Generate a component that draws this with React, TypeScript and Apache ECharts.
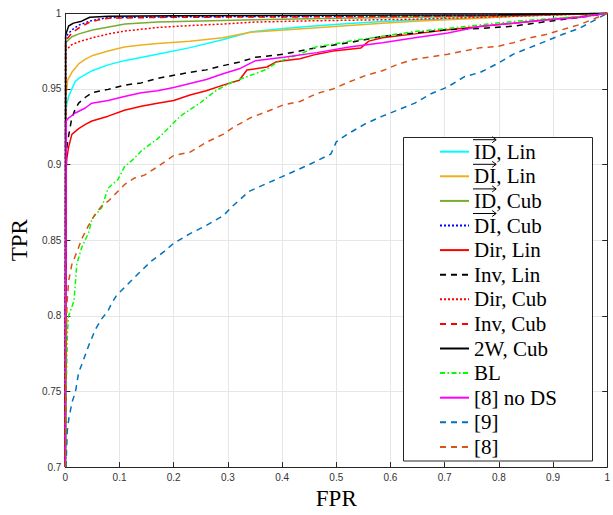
import React, { useEffect, useRef } from 'react';
import * as echarts from 'echarts';

// ---- data ----
const seriesNames = ['ID, Lin', 'DI, Lin', 'ID, Cub', 'DI, Cub', 'Dir, Lin', 'Inv, Lin', 'Dir, Cub', 'Inv, Cub', '2W, Cub', 'BL', '[8] no DS', '[9]', '[8]'];

const idLinFpr = [0, 0.0005, 0.003, 0.006, 0.012, 0.018, 0.0245, 0.037, 0.049, 0.079, 0.109, 0.17, 0.23, 0.29, 0.342, 0.403, 0.464, 0.524, 0.585, 0.645, 0.706, 0.766, 0.827, 0.887, 0.948, 1];
const idLinTpr = [0.7, 0.934, 0.9406, 0.945, 0.95, 0.9547, 0.957, 0.9596, 0.962, 0.9659, 0.9687, 0.973, 0.9773, 0.9825, 0.9877, 0.99, 0.9918, 0.9932, 0.9945, 0.9955, 0.9963, 0.997, 0.998, 0.9989, 0.9995, 1];

const diLinFpr = [0, 0.0005, 0.003, 0.004, 0.012, 0.0245, 0.037, 0.049, 0.079, 0.109, 0.14, 0.17, 0.23, 0.29, 0.342, 0.403, 0.464, 0.524, 0.585, 0.645, 0.706, 0.766, 0.827, 0.887, 0.948, 1];
const diLinTpr = [0.7, 0.944, 0.9514, 0.9557, 0.961, 0.9665, 0.9697, 0.9719, 0.9751, 0.9777, 0.979, 0.98, 0.9816, 0.9838, 0.9875, 0.989, 0.9905, 0.992, 0.9935, 0.9947, 0.9957, 0.9968, 0.998, 0.9989, 0.9995, 1];

const idCubFpr = [0, 0.0005, 0.012, 0.025, 0.05, 0.08, 0.11, 0.17, 0.23, 0.35, 0.5, 0.7, 0.85, 1];
const idCubTpr = [0.7, 0.9806, 0.9845, 0.9864, 0.989, 0.991, 0.9929, 0.9942, 0.9948, 0.9958, 0.9968, 0.9977, 0.9987, 1];

const diCubFpr = [0, 0.0005, 0.012, 0.025, 0.045, 0.06, 0.08, 0.2, 0.5, 0.8, 1];
const diCubTpr = [0.7, 0.9845, 0.989, 0.9922, 0.9948, 0.9961, 0.9971, 0.9977, 0.998, 0.9987, 1];

const dirLinFpr = [0, 0.001, 0.003, 0.006, 0.012, 0.0245, 0.037, 0.049, 0.079, 0.109, 0.14, 0.17, 0.2, 0.23, 0.26, 0.291, 0.321, 0.335, 0.372, 0.39, 0.403, 0.433, 0.464, 0.494, 0.524, 0.545, 0.56, 0.585, 0.645, 0.706, 0.766, 0.827, 0.887, 0.948, 1];
const dirLinTpr = [0.7, 0.895, 0.905, 0.9115, 0.92, 0.9238, 0.9266, 0.9288, 0.932, 0.9359, 0.9385, 0.9406, 0.9424, 0.946, 0.9488, 0.9525, 0.9557, 0.9625, 0.9645, 0.968, 0.9687, 0.97, 0.973, 0.975, 0.9762, 0.977, 0.9816, 0.9838, 0.9864, 0.9892, 0.9913, 0.9935, 0.9957, 0.9978, 1];

const invLinFpr = [0, 0.001, 0.003, 0.006, 0.012, 0.018, 0.0245, 0.037, 0.049, 0.079, 0.109, 0.14, 0.17, 0.2, 0.23, 0.26, 0.291, 0.32, 0.351, 0.403, 0.464, 0.524, 0.585, 0.645, 0.706, 0.766, 0.827, 0.887, 0.948, 1];
const invLinTpr = [0.7, 0.9, 0.912, 0.919, 0.931, 0.9363, 0.9406, 0.9445, 0.9475, 0.9497, 0.9525, 0.954, 0.957, 0.959, 0.961, 0.9626, 0.9654, 0.9676, 0.9709, 0.973, 0.9773, 0.9806, 0.9848, 0.987, 0.9892, 0.99, 0.9915, 0.9945, 0.9972, 1];

const dirCubFpr = [0, 0.0005, 0.012, 0.025, 0.05, 0.08, 0.11, 0.17, 0.23, 0.29, 0.35, 0.45, 0.645, 0.887, 1];
const dirCubTpr = [0.7, 0.9754, 0.9793, 0.9812, 0.9838, 0.9864, 0.9883, 0.9906, 0.9919, 0.9929, 0.9942, 0.995, 0.9961, 0.9987, 1];

const invCubFpr = [0, 0.0005, 0.012, 0.025, 0.045, 0.06, 0.08, 0.2, 0.5, 0.8, 1];
const invCubTpr = [0.7, 0.9819, 0.987, 0.9903, 0.9942, 0.9955, 0.9968, 0.9974, 0.9977, 0.9984, 1];

const twoWCubFpr = [0, 0.0005, 0.006, 0.015, 0.03, 0.045, 0.08, 0.2, 0.5, 0.8, 1];
const twoWCubTpr = [0.7, 0.9857, 0.9916, 0.9935, 0.9948, 0.9974, 0.998, 0.9984, 0.9987, 0.999, 1];

const blFpr = [0.001, 0.0015, 0.004, 0.006, 0.012, 0.016, 0.021, 0.03, 0.043, 0.049, 0.061, 0.067, 0.073, 0.079, 0.097, 0.109, 0.127, 0.14, 0.17, 0.19, 0.212, 0.248, 0.279, 0.309, 0.342, 0.372, 0.39, 0.433, 0.464, 0.494, 0.524, 0.585, 0.645, 0.706, 0.766, 0.827, 0.887, 0.948, 1];
const blTpr = [0.7, 0.75, 0.79, 0.8, 0.806, 0.81, 0.834, 0.845, 0.855, 0.864, 0.869, 0.8715, 0.878, 0.8845, 0.89, 0.8985, 0.904, 0.909, 0.917, 0.924, 0.932, 0.9406, 0.9492, 0.9547, 0.959, 0.963, 0.9676, 0.973, 0.978, 0.9795, 0.9816, 0.9848, 0.988, 0.99, 0.9924, 0.9946, 0.9963, 0.9978, 1];

const noDsFpr = [0, 0.0015, 0.0064, 0.0185, 0.0366, 0.0487, 0.079, 0.109, 0.14, 0.17, 0.2, 0.23, 0.26, 0.291, 0.321, 0.351, 0.403, 0.464, 0.524, 0.585, 0.645, 0.706, 0.766, 0.827, 0.887, 0.948, 1];
const noDsTpr = [0.7, 0.9288, 0.9309, 0.9341, 0.9374, 0.9406, 0.9424, 0.945, 0.9475, 0.9488, 0.951, 0.9536, 0.9562, 0.96, 0.9633, 0.9687, 0.971, 0.974, 0.9777, 0.9806, 0.9838, 0.987, 0.9915, 0.9935, 0.9955, 0.9972, 1];

const ref9Fpr = [0.001, 0.0015, 0.0035, 0.0064, 0.0124, 0.0185, 0.0245, 0.0305, 0.0427, 0.0548, 0.067, 0.079, 0.085, 0.094, 0.109, 0.133, 0.158, 0.182, 0.2, 0.23, 0.26, 0.291, 0.309, 0.339, 0.4, 0.45, 0.49, 0.5, 0.52, 0.554, 0.585, 0.615, 0.645, 0.676, 0.706, 0.736, 0.766, 0.796, 0.827, 0.857, 0.887, 0.917, 0.948, 0.978, 1];
const ref9Tpr = [0.7, 0.704, 0.7237, 0.732, 0.743, 0.7495, 0.7625, 0.768, 0.78, 0.7906, 0.798, 0.8035, 0.808, 0.8132, 0.8187, 0.8273, 0.836, 0.8424, 0.848, 0.8543, 0.8597, 0.8661, 0.8726, 0.8823, 0.892, 0.9, 0.907, 0.915, 0.92, 0.927, 0.932, 0.9363, 0.9406, 0.947, 0.9514, 0.958, 0.961, 0.9665, 0.973, 0.9773, 0.9816, 0.986, 0.99, 0.9957, 1];

const ref8Fpr = [0, 0.001, 0.002, 0.003, 0.006, 0.012, 0.021, 0.0305, 0.043, 0.055, 0.067, 0.079, 0.097, 0.109, 0.127, 0.146, 0.17, 0.2, 0.23, 0.26, 0.291, 0.309, 0.342, 0.372, 0.403, 0.433, 0.464, 0.494, 0.524, 0.555, 0.585, 0.615, 0.645, 0.676, 0.706, 0.736, 0.766, 0.796, 0.827, 0.857, 0.887, 0.917, 0.948, 0.978, 1];
const ref8Tpr = [0.7, 0.76, 0.79, 0.808, 0.823, 0.834, 0.842, 0.851, 0.86, 0.8672, 0.8726, 0.8758, 0.8823, 0.8867, 0.891, 0.893, 0.8985, 0.906, 0.9082, 0.9147, 0.92, 0.9244, 0.931, 0.935, 0.9395, 0.9417, 0.947, 0.95, 0.9547, 0.959, 0.962, 0.9665, 0.9697, 0.9712, 0.973, 0.9751, 0.9773, 0.978, 0.9806, 0.9838, 0.986, 0.9892, 0.9924, 0.9967, 1];

const xTickStep = 0.1;
const yTickStep = 0.05;

// ---- styles ----
const seriesData: [number[], number[]][] = [
  [idLinFpr, idLinTpr], [diLinFpr, diLinTpr], [idCubFpr, idCubTpr], [diCubFpr, diCubTpr],
  [dirLinFpr, dirLinTpr], [invLinFpr, invLinTpr], [dirCubFpr, dirCubTpr], [invCubFpr, invCubTpr],
  [twoWCubFpr, twoWCubTpr], [blFpr, blTpr], [noDsFpr, noDsTpr], [ref9Fpr, ref9Tpr], [ref8Fpr, ref8Tpr],
];
const dashed = [6, 5];
const dotted = [2, 2];
const styles: { color: string; type: any }[] = [
  { color: '#00FFFF', type: 'solid' },
  { color: '#EDB120', type: 'solid' },
  { color: '#77AC30', type: 'solid' },
  { color: '#0000FF', type: dotted },
  { color: '#FF0000', type: 'solid' },
  { color: '#000000', type: dashed },
  { color: '#FF0000', type: dotted },
  { color: '#FF0000', type: dashed },
  { color: '#000000', type: 'solid' },
  { color: '#00FF00', type: [5, 2.5, 1.5, 2.5] },
  { color: '#FF00FF', type: 'solid' },
  { color: '#0072BD', type: dashed },
  { color: '#D95319', type: dashed },
];

const W = 613;
const H = 515;
const gLeft = 61.5;
const gTop = 13.3;
const gRight = 1;
const gBottom = 38.5;
const legendFont = 'Liberation Serif';
const legendSize = 21;
const legendTop = 141.2;
const legendStep = 24.6;
const legendTextX = 473;

export default function App() {
  const ref = useRef<HTMLDivElement>(null);
  useEffect(() => {
    if (!ref.current) return;
    const chart = echarts.init(ref.current, undefined, { renderer: 'svg', width: W, height: H });

    const ctx = document.createElement('canvas').getContext('2d')!;
    ctx.font = `${legendSize}px "${legendFont}"`;
    const arrows: any[] = [];
    [0, 1, 2, 3].forEach((i) => {
      const label = seriesNames[i].split(',')[0];
      const w = ctx.measureText(label).width;
      const cy = legendTop + legendSize / 2 + i * legendStep;
      const ay = cy - 12;
      const x0 = legendTextX;
      const x1 = legendTextX + w + 1;
      arrows.push({ type: 'line', z: 10, shape: { x1: x0, y1: ay, x2: x1, y2: ay }, style: { stroke: '#000', lineWidth: 1 } });
      arrows.push({ type: 'polyline', z: 10, shape: { points: [[x1 - 4, ay - 3], [x1, ay], [x1 - 4, ay + 3]] }, style: { stroke: '#000', lineWidth: 1, fill: 'none' } });
    });

    const axisColor = '#262626';
    const option: any = {
      animation: false,
      backgroundColor: '#fff',
      grid: { left: gLeft, top: gTop, right: gRight, bottom: gBottom, show: false },
      xAxis: [
        {
          type: 'value', min: 0, max: 1, interval: xTickStep,
          name: 'FPR', nameLocation: 'middle', nameGap: 15,
          nameTextStyle: { fontFamily: legendFont, fontSize: 23, color: '#000' },
          axisLine: { show: true, onZero: false, lineStyle: { color: axisColor, width: 1 } },
          axisTick: { show: true, inside: true, length: 5, lineStyle: { color: axisColor } },
          axisLabel: { fontFamily: 'Liberation Sans', fontSize: 10, color: '#333', margin: 5 },
          splitLine: { show: true, lineStyle: { color: '#e6e6e6', width: 1 } },
        },
        {
          type: 'value', min: 0, max: 1, interval: xTickStep, position: 'top',
          axisLine: { show: true, onZero: false, lineStyle: { color: axisColor, width: 1 } },
          axisTick: { show: true, inside: true, length: 5, lineStyle: { color: axisColor } },
          axisLabel: { show: false }, splitLine: { show: false },
        },
      ],
      yAxis: [
        {
          type: 'value', min: 0.7, max: 1, interval: yTickStep,
          name: 'TPR', nameLocation: 'middle', nameGap: 29,
          nameTextStyle: { fontFamily: legendFont, fontSize: 23, color: '#000' },
          axisLine: { show: true, onZero: false, lineStyle: { color: axisColor, width: 1 } },
          axisTick: { show: true, inside: true, length: 5, lineStyle: { color: axisColor } },
          axisLabel: { fontFamily: 'Liberation Sans', fontSize: 10, color: '#333', margin: 4 },
          splitLine: { show: true, lineStyle: { color: '#e6e6e6', width: 1 } },
        },
        {
          type: 'value', min: 0.7, max: 1, interval: yTickStep, position: 'right',
          axisLine: { show: true, onZero: false, lineStyle: { color: axisColor, width: 1 } },
          axisTick: { show: true, inside: true, length: 5, lineStyle: { color: axisColor } },
          axisLabel: { show: false }, splitLine: { show: false },
        },
      ],
      legend: {
        orient: 'vertical', left: 439, top: legendTop, padding: 0,
        itemWidth: 29, itemHeight: 14, itemGap: legendStep - legendSize,
        selectedMode: false,
        itemStyle: { opacity: 0 },
        textStyle: { fontFamily: legendFont, fontSize: legendSize, lineHeight: legendSize, color: '#000' },
        data: seriesNames,
      },
      graphic: [
        { type: 'rect', z: 3, shape: { x: 403.5, y: 137.5, width: 189, height: 323.5 }, style: { fill: '#fff', stroke: axisColor, lineWidth: 1 } },
        ...arrows,
      ],
      series: seriesNames.map((name, i) => ({
        name,
        type: 'line',
        xAxisIndex: 0,
        yAxisIndex: 0,
        symbol: 'none',
        showSymbol: false,
        clip: true,
        lineStyle: { color: styles[i].color, type: styles[i].type, width: 1.5 },
        itemStyle: { color: styles[i].color },
        data: seriesData[i][0].map((x, k) => [x, seriesData[i][1][k]]),
      })),
    };
    chart.setOption(option);
    return () => chart.dispose();
  }, []);
  return <div ref={ref} style={{ position: 'absolute', left: 0, top: 0, width: W, height: H, background: '#fff' }} />;
}
